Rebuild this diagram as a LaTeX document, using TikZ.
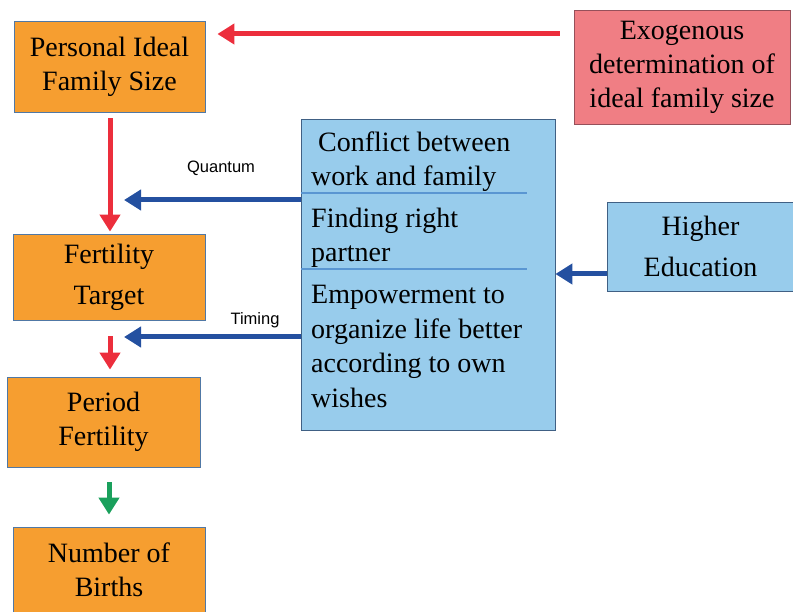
\documentclass[tikz,border=0pt]{standalone}
\usepackage{fontspec}
\setmainfont{Liberation Serif}
\setsansfont{Liberation Sans}
\usetikzlibrary{arrows.meta}
\definecolor{boxorange}{RGB}{246,158,48}
\definecolor{boxpink}{RGB}{240,126,132}
\definecolor{boxblue}{RGB}{152,204,236}
\definecolor{edgeblue}{RGB}{80,120,165}
\definecolor{edgepink}{RGB}{150,80,90}
\definecolor{seplineblue}{RGB}{90,150,210}
\definecolor{arrred}{RGB}{236,46,60}
\definecolor{arrblue}{RGB}{36,80,160}
\definecolor{arrgreen}{RGB}{26,160,92}
\tikzset{
  stage/.style={draw=edgeblue, line width=0.8pt, fill=boxorange, align=center,
    inner sep=0pt, font=\fontsize{28}{34}\selectfont},
  cause/.style={stage, draw=edgepink, fill=boxpink},
  factor/.style={stage, draw=edgeblue!80!black, fill=boxblue},
  item/.style={align=left, inner sep=0pt, anchor=base west,
    font=\fontsize{28}{34.5}\selectfont},
  tag/.style={inner sep=0pt, font=\sffamily\fontsize{16.5}{18}\selectfont},
  redarrow/.style={->, draw=arrred, line width=5pt},
  bluearrow/.style={->, draw=arrblue, line width=5pt},
  greenarrow/.style={->, draw=arrgreen, line width=5pt}
}

\begin{document}
\begin{tikzpicture}[x=1pt,y=-1pt,>={Triangle[width=20pt,length=17pt]}]
\useasboundingbox (0,0) rectangle (793,612);
% boxes on the left
\node[stage, minimum width=191pt, minimum height=91pt] (ideal) at (109.5,66.5) {Personal Ideal\\Family Size};
\node[stage, minimum width=192pt, minimum height=86pt] (target) at (109,277) {Fertility\\[7pt]Target};
\node[stage, minimum width=193pt, minimum height=90pt] (period) at (103.5,422) {Period\\Fertility};
\node[stage, minimum width=192pt, minimum height=86pt] (births) at (109,570) {Number of\\Births};
% boxes on the right
\node[cause, minimum width=216pt, minimum height=114pt] (exo) at (682,67) {Exogenous\\determination of\\ideal family size};
\node[factor, minimum width=186pt, minimum height=89pt] (higher) at (700.5,246.5) {Higher\\[7pt]Education};
\node[factor, minimum width=254pt, minimum height=311pt] (factors) at (428,274.5) {};
% anchor base = baseline of the last line
\node[item] (conflict) at (311,186) {\hspace{7pt}Conflict between\\work and family};
\node[item] (partner) at (311,262) {Finding right\\partner};
\node[item] (empower) at (311,407) {Empowerment to\\organize life better\\according to own\\wishes};
\draw[seplineblue, line width=1.2pt] (factors.west |- 0,193) -- (527,193);
\draw[seplineblue, line width=1.2pt] (factors.west |- 0,269) -- (527,269);
% connectors
\coordinate (quantum) at (124,200);
\coordinate (timing) at (124,337);
\draw[redarrow] ([xshift=-14pt,yshift=33pt]exo.west) -- ([xshift=12pt,yshift=32.5pt]ideal.east);
\draw[redarrow] ([xshift=0.5pt,yshift=-6pt]ideal.south) -- ([xshift=1pt,yshift=2pt]target.north);
\draw[bluearrow] (factors.west |- quantum) -- (quantum);
\draw[bluearrow] (factors.west |- timing) -- (timing);
\draw[bluearrow] ([yshift=-27.5pt]higher.west) -- ([yshift=-27.5pt]higher.west -| factors.east);
\draw[redarrow] ([xshift=1pt,yshift=-16pt]target.south) -- ([xshift=1pt,yshift=7pt]target.south |- period.north);
\draw[greenarrow] ([xshift=5.5pt,yshift=-15pt]period.south) -- ([xshift=5.5pt,yshift=12pt]period.south |- births.north);
\node[tag] (quantumtag) at (221,168) {Quantum};
\node[tag] (timingtag) at (255,320) {Timing};
\end{tikzpicture}
\end{document}
